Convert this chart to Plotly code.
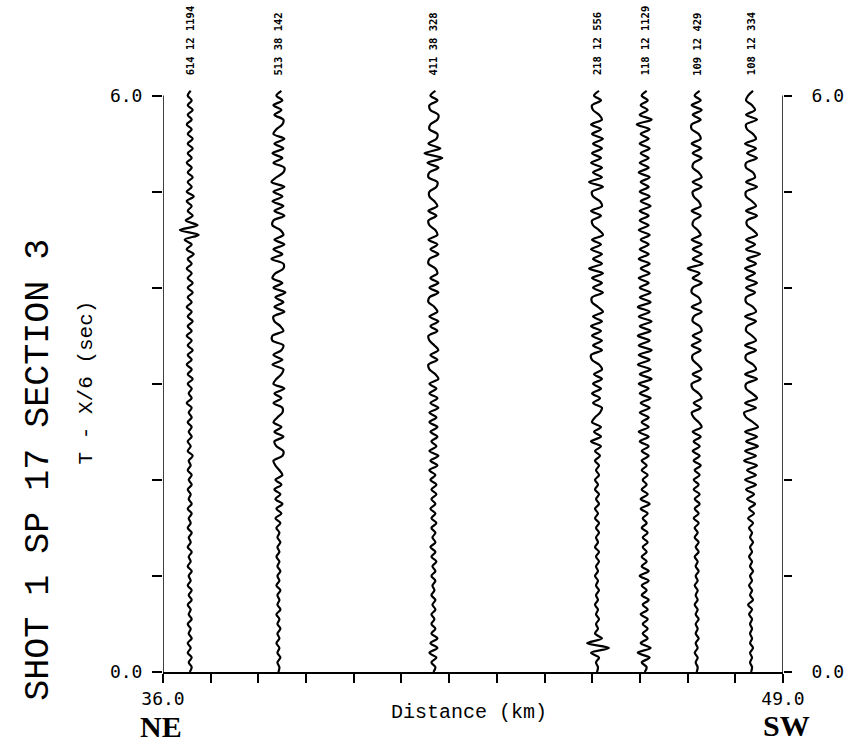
import plotly.graph_objects as go

# ---- data -------------------------------------------------------------
trace_km = [36.56, 38.42, 41.67, 45.10, 46.10, 47.19, 48.33]
trace_labels = ["614 12 1194", "513 38 142", "411 38 328", "218 12 556",
                "118 12 1129", "109 12 429", "108 12 334"]
dt = 0.05          # s per sample, samples start at t = 0 (bottom)
amp_scale = 1 / 48  # km per amplitude unit

amp_1 = [0, 2, -1, 2, -2, 1, -2, 2, -1, 1,
         -2, 2, -1, 1, -2, 2, -1, 2, -2, 1,
         -1, 2, -2, 1, -1, 2, -2, 1, -1, 2,
         -2, 1, -1, 2, -2, 2, -1, 1, -2, 2,
         -1, 2, -2, 1, -1, 3, -2, 1, -2, 2,
         -1, 2, -2, 2, -1, 2, -3, 2, -1, 2,
         -2, 3, -2, 2, -3, 2, -2, 3, -2, 2,
         -3, 2, -2, 3, -2, 2, -3, 2, -2, 3,
         -2, 3, -2, 2, -3, 2, -2, 4, -3, 2,
         -5, 9, -10, 8, -4, 3, -2, 2, -3, 4,
         -3, 2, -2, 3, -2, 2, -3, 2, -2, 3,
         -2, 3, -2, 2, -3, 2, -2, 3, -2, 2,
         -2, 1]
amp_2 = [0, 1, -1, 2, -1, 1, -2, 1, -1, 2,
         -1, 1, -2, 2, -1, 1, -1, 2, -2, 1,
         -1, 2, -1, 1, -2, 1, -1, 2, -1, 1,
         -2, 2, -3, 3, -2, 4, -3, 2, -4, 3,
         -3, 4, 1, -3, -5, 4, 5, -2, -4, 5,
         -4, 3, -5, -1, 4, 4, -5, 3, -4, 6,
         -5, -2, 3, 5, -6, 4, -5, 3, 5, -6,
         -6, 5, 2, -4, -5, 6, -4, 5, -3, 7,
         -5, 4, -6, -3, 5, 5, -7, 4, -5, 6,
         -4, 5, 2, -6, -5, 6, -4, 5, -6, 4,
         -5, 6, -7, -2, 5, 6, -5, 4, -6, 5,
         -4, 6, -5, -2, 4, 5, -4, 3, -5, 4,
         -2, 3]
amp_3 = [0, 2, -2, 3, -4, 4, -3, 4, -2, 2,
         -2, 1, -2, 2, -1, 2, -2, 1, -1, 2,
         -2, 2, -1, 3, -2, 2, -3, 2, -1, 2,
         -2, 3, -2, 2, -3, 2, -2, 3, -2, 3,
         -3, 2, -4, 4, -3, 5, -4, 3, -2, 4,
         -3, 4, -4, 3, -4, 5, -3, 4, -4, 3,
         -4, 5, 2, -4, -5, 4, -3, 5, 1, -4,
         -5, 4, -3, 5, -4, 4, 1, -5, -4, 5,
         -4, 5, -3, 4, 2, -5, -4, 5, -3, 4,
         -5, 4, 2, -4, -5, 3, -5, 4, 1, -4,
         -4, 3, 4, -5, -4, 5, -6, 9, -9, 7,
         -5, 3, 4, -4, -3, 4, 5, -3, -4, 4,
         -3, 2]
amp_4 = [0, 1, -1, 2, -6, 12, -10, 5, -2, 1,
         -1, 2, -1, 1, -2, 1, -1, 2, -1, 1,
         -2, 1, -1, 2, -1, 2, -2, 1, -1, 2,
         -1, 2, -2, 1, -2, 2, -1, 2, -2, 1,
         -2, 2, -1, 2, -2, 3, -2, 4, -6, 4,
         -3, 4, -5, -2, 3, 5, -4, 3, -5, 4,
         -4, 5, -3, 5, 2, -5, -6, 5, -4, 5,
         -5, 4, -6, 5, -4, 6, 1, -5, -5, 6,
         -4, 5, -5, 6, -8, 5, -4, 5, -6, 4,
         -5, 6, 2, -4, -5, 4, -6, 5, 3, -4,
         -5, 6, -8, 5, -4, 5, -6, 4, -5, 5,
         -4, 6, -5, 4, -6, 5, 2, -4, -5, 4,
         -3, 2]
amp_5 = [0, 2, -3, 5, -7, 6, -4, 3, -2, 3,
         -2, 3, -4, 3, -2, 4, -3, 2, -3, 4,
         -5, 4, -3, 2, -3, 2, -2, 3, -2, 3,
         -3, 2, -2, 3, -4, 5, -4, 3, -3, 2,
         -2, 3, -3, 2, -3, 4, -3, 4, -5, 4,
         -6, 4, -3, 4, -5, 5, -4, 6, -5, 4,
         -6, 7, -5, 6, -7, 5, -6, 7, -6, 5,
         -7, 6, -5, 7, -6, 5, -7, 6, -5, 6,
         -5, 4, -6, 5, -4, 5, -6, 4, -5, 4,
         -4, 5, -6, 4, -5, 4, -5, 6, -4, 5,
         -5, 4, -4, 5, -6, 4, -5, 4, -4, 5,
         -5, 4, -4, 5, -8, 7, -5, 3, -4, 3,
         -3, 2]
amp_6 = [0, 1, -1, 1, -2, 1, -1, 2, -1, 1,
         -1, 2, -1, 1, -2, 1, -1, 1, -2, 1,
         -1, 2, -1, 1, -2, 2, -1, 2, -2, 1,
         -2, 2, -3, 2, -2, 3, -2, 3, -3, 2,
         -3, 3, -2, 4, -3, 3, -4, 3, -3, 4,
         -4, 5, 2, -3, -5, 4, -3, 5, 2, -4,
         -5, 4, -4, 5, 1, -4, -4, 4, -5, 4,
         -4, 5, 3, -4, -3, 5, -5, 4, 2, -5,
         -4, 5, -4, 3, -9, 6, -4, 5, -4, 5,
         -5, 4, 1, -4, -3, 4, -5, 4, 2, -3,
         -4, 5, -4, 5, 2, -4, -3, 5, -4, 4,
         -5, 4, 2, -5, -5, 4, -4, 5, -5, 4,
         -2, 3]
amp_7 = [0, 1, -1, 1, -1, 2, -1, 1, -1, 1,
         -1, 1, -2, 1, -3, 2, -1, 1, -2, 1,
         -1, 2, -1, 1, -2, 1, -1, 2, -1, 1,
         -2, 2, -3, 3, -2, 4, -4, 3, -5, 5,
         -6, 5, -4, 6, -7, 5, -6, 7, -5, 6,
         -6, 7, 2, -5, -7, 5, -6, 6, 1, -5,
         -5, 6, -6, 5, 2, -5, -5, 5, -6, 5,
         1, -5, -4, 5, -6, 5, 2, -5, -5, 4,
         -5, 6, -5, 4, -6, 5, -4, 9, -5, 4,
         -5, 6, 2, -4, -4, 6, -5, 5, 1, -5,
         -5, 6, -5, 4, 2, -5, -5, 6, -4, 5,
         -6, 5, 2, -4, -5, 6, -5, 4, 1, -5,
         -3, 2]
amplitudes = [amp_1, amp_2, amp_3, amp_4, amp_5, amp_6, amp_7]

x_ticks = list(range(36, 50))
x_ticktext = ["36.0"] + [""] * 12 + ["49.0"]
y_ticks = [0, 1, 2, 3, 4, 5, 6]
y_ticktext = ["0.0", "", "", "", "", "", "6.0"]

# ---- figure -----------------------------------------------------------
fig = go.Figure()
for km, amp in zip(trace_km, amplitudes):
    fig.add_trace(go.Scatter(
        x=[km + a * amp_scale for a in amp],
        y=[i * dt for i in range(len(amp))],
        mode="lines",
        line=dict(color="black", width=2.2, shape="spline", smoothing=0.9),
        showlegend=False, hoverinfo="skip"))

fig.add_trace(go.Scatter(x=[None], y=[None], yaxis="y2", showlegend=False,
                         hoverinfo="skip"))

mono = "DejaVu Sans Mono"
thin = "Liberation Mono"

fig.update_layout(
    width=856, height=745,
    margin=dict(l=163, r=69, t=86, b=73),
    paper_bgcolor="white", plot_bgcolor="white",
    xaxis=dict(range=[36, 49], showgrid=False, zeroline=False,
               showline=True, linecolor="black", linewidth=1.5,
               ticks="outside", ticklen=9, tickwidth=1.5, tickcolor="black",
               tickvals=x_ticks, ticktext=x_ticktext, ticklabelstandoff=1,
               tickfont=dict(family=mono, size=18, color="black")),
    yaxis=dict(range=[0, 6.1], showgrid=False, zeroline=False, showline=False,
               ticks="outside", ticklen=10, tickwidth=1.5, tickcolor="black",
               tickvals=y_ticks, ticktext=y_ticktext, ticklabelstandoff=6,
               tickfont=dict(family=mono, size=18, color="black")),
    yaxis2=dict(range=[0, 6.1], overlaying="y", side="right", showgrid=False,
                zeroline=False, showline=False,
                ticks="outside", ticklen=8, tickwidth=1.5, tickcolor="black",
                tickvals=y_ticks, ticktext=y_ticktext, ticklabelstandoff=16,
                tickfont=dict(family=mono, size=18, color="black")),
)

# frame side lines (axes from 0 to 6 s)
for xv in (36, 49):
    fig.add_shape(type="line", xref="x", yref="y", x0=xv, x1=xv, y0=0, y1=6,
                  line=dict(color="black", width=1.5))

# trace header labels
for km, lab in zip(trace_km, trace_labels):
    fig.add_annotation(x=km, xref="x", y=1.0143, yref="paper",
                       text="<b>" + lab + "</b>",
                       textangle=-90, showarrow=False, xanchor="center",
                       yanchor="bottom",
                       font=dict(family=mono, size=10.5, color="black"))

fig.add_annotation(x=-0.2, y=0.345, xref="paper", yref="paper",
                   text="SHOT 1 SP 17 SECTION 3", textangle=-90,
                   showarrow=False, xanchor="center", yanchor="middle",
                   font=dict(family=thin, size=35, color="black"))
fig.add_annotation(x=-0.1234, y=0.495, xref="paper", yref="paper",
                   text="T - X/6 (sec)", textangle=-90,
                   showarrow=False, xanchor="center", yanchor="middle",
                   font=dict(family=thin, size=21, color="black"))
fig.add_annotation(x=0.4936, y=-0.0683, xref="paper", yref="paper",
                   text="Distance (km)", showarrow=False,
                   xanchor="center", yanchor="middle",
                   font=dict(family=thin, size=20, color="black"))
fig.add_annotation(x=-0.0032, y=-0.0935, xref="paper", yref="paper",
                   text="<b>NE</b>", showarrow=False,
                   xanchor="center", yanchor="middle", borderpad=0,
                   font=dict(family="Liberation Serif", size=30, color="black"))
fig.add_annotation(x=1.0064, y=-0.0915, xref="paper", yref="paper",
                   text="<b>SW</b>", showarrow=False,
                   xanchor="center", yanchor="middle", borderpad=0,
                   font=dict(family="Liberation Serif", size=30, color="black"))

fig.write_html("out.html",
               config={"displayModeBar": False},
               post_script="document.body.style.margin='0';"
                           "document.body.style.overflow='hidden';")
